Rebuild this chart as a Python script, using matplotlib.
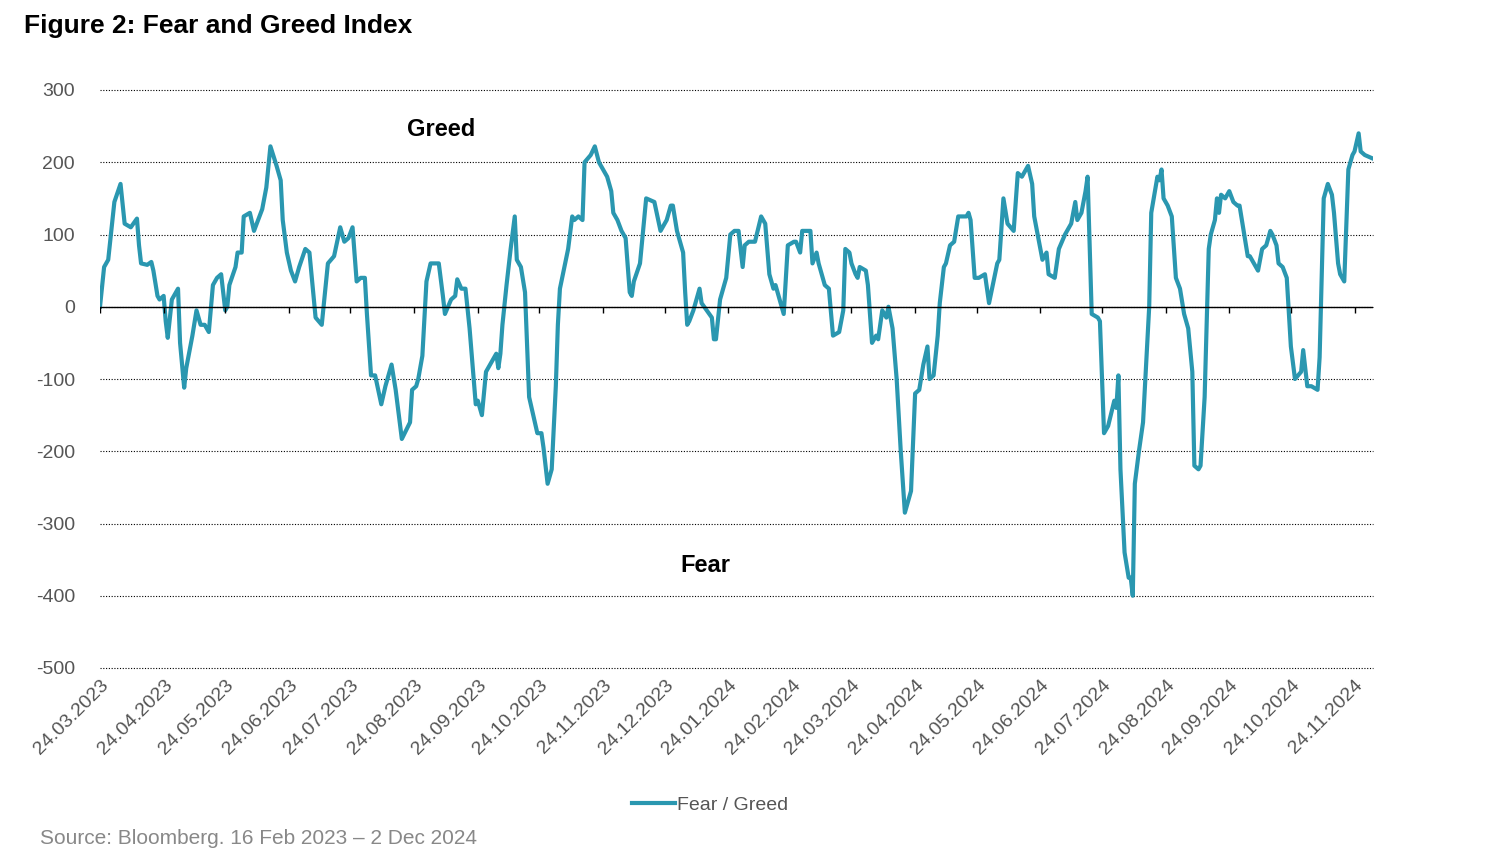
import matplotlib
matplotlib.use("Agg")
import matplotlib.pyplot as plt
import numpy as np
import pandas as pd

plt.rcParams["font.family"] = "Liberation Sans"
plt.rcParams["axes.unicode_minus"] = False

start = pd.Timestamp("2023-03-24")

# days since 24.03.2023
days = [0, 2, 4, 7, 10, 12, 15, 18, 19, 20, 23, 25, 26, 28, 29, 31, 32, 33, 35, 38,
        39, 41, 42, 45, 47, 49, 51, 53, 55, 57, 59, 61, 62, 63, 66, 67, 69, 70, 73, 75,
        79, 81, 83, 86, 88, 89, 91, 93, 95, 97, 100, 102, 105, 108, 111, 114, 117, 119, 121, 123,
        125, 127, 129, 130, 132, 134, 137, 139, 142, 144, 146, 147, 151, 152, 154, 155, 157, 159, 161, 165,
        167, 168, 171, 173, 174, 176, 178, 180, 183, 184, 186, 188, 191, 193, 194, 195, 196, 198, 200, 202,
        203, 205, 207, 209, 211, 213, 215, 216, 218, 220, 222, 223, 224, 228, 230, 231, 233, 235, 236, 239,
        241, 243, 247, 249, 250, 252, 254, 256, 258, 259, 260, 263, 266, 270, 273, 276, 278, 279, 281, 284,
        285, 286, 287, 289, 292, 293, 298, 299, 300, 302, 305, 307, 309, 311, 313, 314, 316, 319, 322, 324,
        326, 328, 329, 331, 333, 335, 338, 339, 341, 342, 346, 347, 349, 350, 351, 353, 355, 357, 360, 362,
        363, 365, 366, 368, 369, 370, 373, 374, 376, 378, 379, 381, 383, 384, 386, 388, 390, 392, 395, 397,
        399, 401, 403, 404, 406, 408, 409, 411, 412, 414, 416, 418, 422, 423, 424, 426, 428, 431, 433, 437,
        438, 440, 442, 445, 447, 449, 452, 454, 455, 459, 461, 462, 465, 467, 470, 473, 475, 476, 478, 480,
        481, 483, 486, 487, 489, 491, 494, 495, 496, 497, 499, 501, 502, 503, 504, 506, 508, 511, 512, 515,
        516, 517, 518, 520, 522, 524, 526, 528, 530, 532, 533, 535, 536, 538, 540, 541, 543, 544, 545, 546,
        548, 550, 552, 554, 555, 557, 559, 560, 562, 564, 566, 568, 570, 571, 573, 574, 576, 578, 580, 582,
        585, 586, 588, 590, 593, 594, 596, 598, 600, 601, 603, 604, 606, 608, 610, 611, 613, 614, 616, 620]

fear_greed = [0, 55, 65, 145, 170, 115, 110, 122, 85, 60, 58, 62, 50, 15, 10, 15, -20, -43, 10, 25,
              -50, -112, -85, -40, -5, -25, -25, -35, 30, 40, 45, -5, 0, 30, 55, 75, 75, 125, 130, 105,
              135, 165, 222, 195, 175, 120, 75, 50, 35, 55, 80, 75, -15, -25, 60, 70, 110, 90, 95, 110,
              35, 40, 40, -10, -95, -95, -135, -110, -80, -115, -160, -183, -160, -115, -110, -100, -68, 35, 60, 60,
              15, -10, 10, 15, 38, 25, 25, -30, -135, -130, -150, -90, -75, -65, -85, -65, -25, 30, 80, 125,
              65, 55, 20, -125, -150, -175, -175, -195, -245, -225, -110, -25, 25, 80, 125, 120, 125, 120, 200, 210,
              222, 200, 180, 160, 130, 120, 105, 95, 20, 15, 35, 60, 150, 145, 105, 120, 140, 140, 105, 75,
              20, -25, -20, -5, 25, 5, -15, -45, -45, 10, 40, 100, 105, 105, 55, 85, 90, 90, 125, 115,
              45, 25, 30, 10, -10, 85, 90, 90, 75, 105, 105, 60, 75, 60, 50, 30, 25, -40, -35, -5,
              80, 75, 60, 45, 40, 55, 50, 30, -50, -40, -45, -5, -15, 0, -30, -100, -200, -285, -255, -120,
              -115, -80, -55, -100, -95, -40, 5, 55, 60, 85, 90, 125, 125, 130, 120, 40, 40, 45, 5, 60,
              65, 150, 115, 105, 185, 180, 195, 170, 125, 65, 75, 45, 40, 80, 100, 115, 145, 120, 130, 160,
              180, -10, -15, -20, -175, -165, -130, -140, -95, -225, -340, -375, -375, -400, -245, -200, -160, 0, 130, 180,
              175, 190, 150, 140, 125, 40, 25, -10, -30, -90, -220, -225, -220, -125, 80, 100, 120, 150, 130, 155,
              150, 160, 145, 140, 140, 105, 70, 70, 60, 50, 80, 85, 105, 100, 85, 60, 55, 40, -55, -100,
              -90, -60, -110, -110, -115, -70, 150, 170, 155, 130, 60, 45, 35, 190, 210, 215, 240, 215, 210, 205]

tick_dates = pd.date_range("2023-03-24", "2024-11-24", freq=pd.DateOffset(months=1))
y_ticks = [300, 200, 100, 0, -100, -200, -300, -400, -500]

dates = start + pd.to_timedelta(days, unit="D")
color = "#2a97b0"

fig = plt.figure(figsize=(15, 8.67), dpi=100)
ax = fig.add_axes([100 / 1500, 1 - 668 / 867, 1273 / 1500, 578 / 867])

ax.plot(dates, fear_greed, color=color, lw=3, label="Fear / Greed", solid_joinstyle="round")

ax.set_ylim(-500, 300)
ax.set_xlim(start, start + pd.Timedelta(days=620))
ax.set_yticks(y_ticks)
ax.yaxis.grid(True, linestyle=(0, (1, 1.5)), color="black", lw=0.8)
for gl in ax.get_ygridlines():
    gl.set_clip_on(False)
ax.axhline(0, color="black", lw=1)
for s in ax.spines.values():
    s.set_visible(False)
ax.tick_params(axis="y", length=0, labelsize=14, colors="#555555", pad=18)
ax.set_xticks(tick_dates)
ax.set_xticklabels([d.strftime("%d.%m.%Y") for d in tick_dates], rotation=45,
                   ha="right", rotation_mode="anchor", fontsize=14, color="#555555")
ax.tick_params(axis="x", length=0, pad=6)
# small tick marks along the zero line
ax.vlines(tick_dates, 0, -8, color="black", lw=1)

ax.text(start + pd.Timedelta(days=166), 245, "Greed", fontsize=17, fontweight="bold",
        ha="center", va="center")
ax.text(start + pd.Timedelta(days=295), -358, "Fear", fontsize=17, fontweight="bold",
        ha="center", va="center")

fig.text(24 / 1500, 1 - 26 / 867, "Figure 2: Fear and Greed Index", fontsize=19,
         fontweight="bold", va="center")
fig.legend(loc="center", bbox_to_anchor=(710 / 1500, 1 - 805 / 867), frameon=False,
           fontsize=14, handlelength=2.2, handletextpad=0.1, labelcolor="#555555")
fig.text(40 / 1500, 1 - 839 / 867, "Source: Bloomberg. 16 Feb 2023 \u2013 2 Dec 2024",
         fontsize=15, color="#888888", va="center")

fig.savefig("out.png", dpi=100)
